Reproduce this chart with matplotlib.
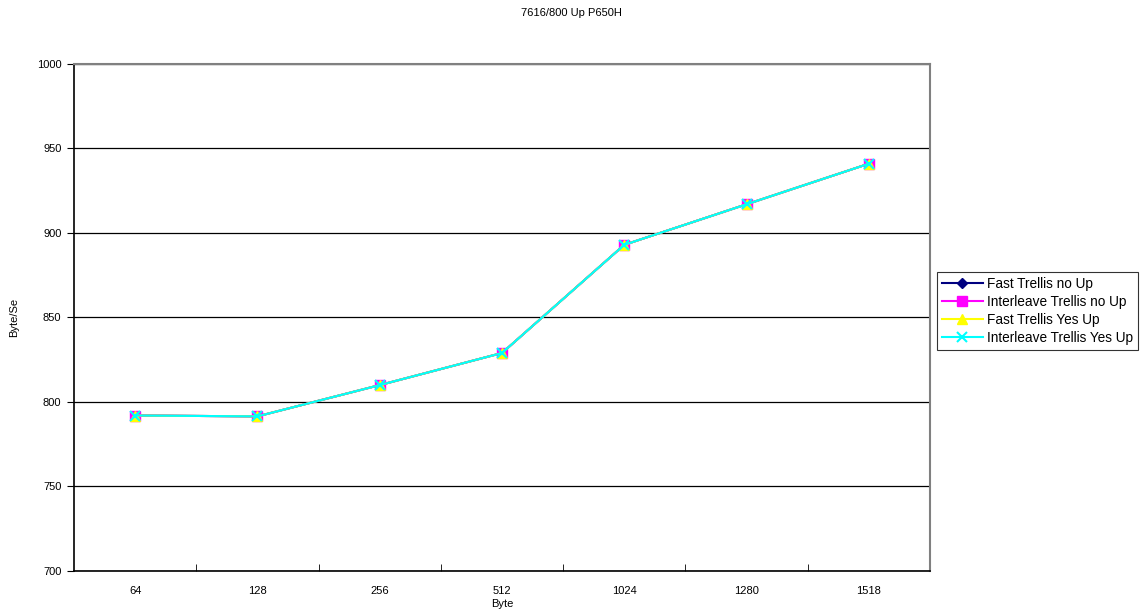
import matplotlib.pyplot as plt

plt.rcParams['font.family'] = ['Liberation Sans', 'DejaVu Sans']

sizes = ['64', '128', '256', '512', '1024', '1280', '1518']
fast_no_up = [792, 791.5, 810, 829, 893, 917, 941]
inter_no_up = [792, 791.5, 810, 829, 893, 917, 941]
fast_yes_up = [792, 791.5, 810, 829, 893, 917, 941]
inter_yes_up = [792, 791.5, 810, 829, 893, 917, 941]

fig = plt.figure(figsize=(11.42, 6.16), dpi=100)
ax = fig.add_axes([74 / 1142, 1 - 571 / 616, 856 / 1142, 507 / 616])

x = range(len(sizes))
ax.plot(x, fast_no_up, color='#000080', marker='D', markersize=5, lw=1.5,
        label='Fast Trellis no Up')
ax.plot(x, inter_no_up, color='#FF00FF', marker='s', markersize=7, lw=1.5,
        label='Interleave Trellis no Up')
ax.plot(x, fast_yes_up, color='#FFFF00', marker='^', markersize=7, lw=1.5,
        label='Fast Trellis Yes Up')
ax.plot(x, inter_yes_up, color='#00FFFF', marker='x', markersize=7, mew=1.5,
        lw=1.5, label='Interleave Trellis Yes Up')

ax.set_xlim(-0.5, len(sizes) - 0.5)
ax.set_ylim(700, 1000)
ax.set_yticks(range(700, 1001, 50))
ax.set_xticks(list(x))
ax.set_xticklabels(sizes)
ax.set_xticks([i + 0.5 for i in range(len(sizes) - 1)], minor=True)
ax.tick_params(axis='x', which='major', length=0, pad=11, labelsize=8)
ax.tick_params(axis='x', which='minor', length=5, direction='in', color='black')
ax.tick_params(axis='y', length=5, direction='out', labelsize=8, pad=4)
ax.yaxis.grid(True, color='black', lw=0.9)
ax.set_axisbelow(True)

for side in ('top', 'right'):
    ax.spines[side].set_color('#808080')
    ax.spines[side].set_linewidth(1.5)
for side in ('left', 'bottom'):
    ax.spines[side].set_color('black')
    ax.spines[side].set_linewidth(1.2)

# axis titles placed in figure pixels
fig.text(502 / 1142, 1 - 604 / 616, 'Byte', fontsize=8,
         ha='center', va='center')
fig.text(14 / 1142, 1 - 317 / 616, 'Byte/Se', fontsize=8,
         rotation=90, ha='center', va='center')
fig.suptitle('7616/800 Up P650H', fontsize=8, y=1 - 13 / 616, va='center')

leg = ax.legend(loc='center left', bbox_to_anchor=(937 / 1142, 1 - 311 / 616),
                bbox_transform=fig.transFigure, fontsize=9.8, frameon=True,
                fancybox=False, edgecolor='black', borderpad=0.35,
                labelspacing=0.3, handlelength=3.0, handletextpad=0.35,
                borderaxespad=0)
leg.get_frame().set_linewidth(0.8)

fig.savefig('out.png', dpi=100)
